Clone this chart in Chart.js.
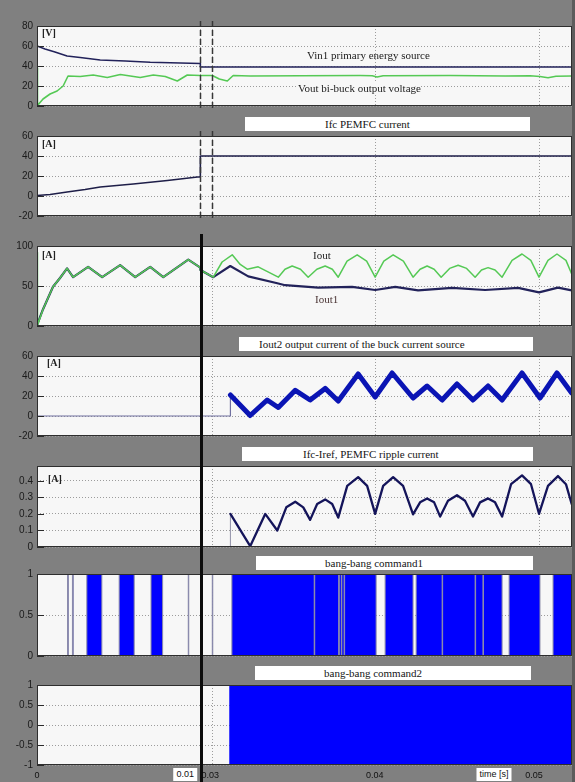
<!DOCTYPE html>
<html><head><meta charset="utf-8">
<script src="https://cdn.jsdelivr.net/npm/chart.js@4.4.1/dist/chart.umd.min.js"></script>
<style>
html,body{margin:0;padding:0;background:#808080;}
#fig{position:relative;width:575px;height:782px;background:#808080;overflow:hidden;}
#fig canvas{position:absolute;left:0;}
.box{position:absolute;background:#fff;height:14px;font:11px 'Liberation Serif','Times New Roman',serif;color:#151515;line-height:14px;white-space:nowrap;z-index:3;}
.note{position:absolute;font:11px 'Liberation Serif','Times New Roman',serif;color:#222;white-space:nowrap;line-height:12px;z-index:3;}
.unit{font-weight:bold;font-size:10px;}
.xl{position:absolute;font:9px 'Liberation Sans',Arial,sans-serif;color:#111;white-space:nowrap;line-height:11px;z-index:4;transform:translateX(-50%);}
#marker{position:absolute;left:200px;top:234px;width:3px;height:548px;background:#0c0c0c;z-index:5;}
#edge{position:absolute;left:572px;top:0;width:3px;height:782px;background:#5c5c5c;z-index:2;}
</style></head>
<body>
<div id="fig"><div id="marker"></div><div id="edge"></div></div>
<script>
// ---------------- data (time in seconds) ----------------
const xGridTicks = [0, 0.01, 0.03, 0.04, 0.05];
const xTickLabels = ['0', '0.01', '0.03', '0.04', '0.05'];

// panel 1 : voltages [V]
const vinTime  = [0, 0.00049, 0.0011, 0.00184, 0.00264, 0.00387, 0.0054, 0.00693, 0.00877, 0.01, 0.02927, 0.035, 0.04, 0.045, 0.052];
const vinVolts = [60, 57, 54, 50, 48.5, 46, 45, 43.7, 43, 42.5, 39, 39, 39, 39, 39];
const voutTime  = [0, 0.00003, 0.00037, 0.0008, 0.00123, 0.0016, 0.0019, 0.00264, 0.00344, 0.0043, 0.0051, 0.00632, 0.00712, 0.00785, 0.00859, 0.0092, 0.01,
                   0.02927, 0.03, 0.03043, 0.03092, 0.03128, 0.03232, 0.03538, 0.03905, 0.03979, 0.04009, 0.04046, 0.04456, 0.04792, 0.04945, 0.05006, 0.05055, 0.05104, 0.052];
const voutVolts = [38, 0.5, 7, 12, 15, 20, 30, 29.5, 31, 28.5, 31.5, 28.5, 31, 29.5, 25, 31, 30.5,
                   30.5, 30.5, 27, 25, 30.5, 30, 30.3, 30.5, 30.3, 29, 30.3, 30.5, 30, 30.3, 29.5, 28.3, 29.8, 30];
const p1Ticks = [0, 20, 40, 60, 80];

// panel 2 : Ifc [A]
const ifcTime = [0, 0.0008, 0.00184, 0.00294, 0.00387, 0.00589, 0.00798, 0.00982, 0.01, 0.02927, 0.04, 0.052];
const ifcAmps = [0.5, 1.5, 4, 6.5, 9, 12, 15.5, 19, 19, 40, 40, 40];
const p2Ticks = [-20, 0, 20, 40, 60];

// panel 3 : Iout, Iout1 [A]
const ioutTime = [0, 0.00003, 0.00037, 0.00098, 0.00141, 0.00184, 0.00221, 0.00313, 0.00399, 0.00509, 0.00601, 0.00693, 0.00773, 0.00926, 0.01,
  0.02927, 0.03006, 0.0306, 0.03122, 0.03171, 0.03214, 0.03281, 0.03404, 0.03445, 0.03489, 0.0354, 0.03587, 0.0364, 0.03691, 0.03735, 0.03771,
  0.03825, 0.03887, 0.03945, 0.03997, 0.0405, 0.04107, 0.0417, 0.04229, 0.04272, 0.04315, 0.04358, 0.04401, 0.04453, 0.04505, 0.04557, 0.04609,
  0.04648, 0.04688, 0.04731, 0.04774, 0.04835, 0.04896, 0.0495, 0.05, 0.05055, 0.0511, 0.05165, 0.052];
const ioutAmps = [92, 1, 21, 49, 60, 72, 61, 74, 61, 76, 61, 74, 61, 83, 73,
  70, 61, 80, 89, 77, 71, 74, 61, 71, 75, 71, 61, 71, 75, 71, 61,
  81, 89, 81, 61, 81, 89, 81, 61, 71, 75, 71, 61, 72, 76, 72, 61,
  70, 73, 70, 61, 82, 90, 82, 61, 82, 90, 82, 65];
const iout1Time = [0, 0.00037, 0.00098, 0.00141, 0.00184, 0.00221, 0.00313, 0.00399, 0.00509, 0.00601, 0.00693, 0.00773, 0.00926, 0.01,
  0.02927, 0.03006, 0.0311, 0.0322, 0.03398, 0.03446, 0.03648, 0.03856, 0.03997, 0.0412, 0.0426, 0.04468, 0.0467, 0.04872, 0.05, 0.05116, 0.052];
const iout1Amps = [1, 21, 49, 60, 72, 61, 74, 61, 76, 61, 74, 61, 83, 73,
  70, 61, 75, 62, 53.5, 51, 48, 49, 45, 49, 44.5, 47.6, 45, 47.6, 42, 48, 44.5];
const p3Ticks = [0, 50, 100];

// panel 4 : Iout2 [A]
const iout2Time = [0, 0.01, 0.02927, 0.0311, 0.03111, 0.03232, 0.03336, 0.03404, 0.03508, 0.03599, 0.03691, 0.03771, 0.03893, 0.03997, 0.04101,
  0.04229, 0.04315, 0.04407, 0.04498, 0.04596, 0.04688, 0.04774, 0.04896, 0.05006, 0.0511, 0.052];
const iout2Amps = [0, 0, 0, 0, 21, 0.5, 16, 8.5, 25.7, 16, 27.6, 15, 42, 19, 43,
  18, 30, 16, 32, 16, 30, 16, 43, 18, 43, 23];
const p4Ticks = [-20, 0, 20, 40, 60];

// panel 5 : Ifc - Iref [A]
const rippleTime = [0, 0.01, 0.02927, 0.0311, 0.03111, 0.03232, 0.03324, 0.03398, 0.03453, 0.03508, 0.03557, 0.03599, 0.03642, 0.03691, 0.03734, 0.03771,
  0.03826, 0.03893, 0.03948, 0.03997, 0.04046, 0.04107, 0.04168, 0.04229, 0.04272, 0.04315, 0.04358, 0.04395, 0.04443, 0.04498, 0.04547, 0.04596,
  0.04639, 0.04688, 0.04731, 0.04774, 0.04829, 0.04896, 0.04951, 0.05, 0.05055, 0.05116, 0.05165, 0.052];
const rippleAmps = [0, 0, 0, 0, 0.2, 0.005, 0.2, 0.1, 0.24, 0.274, 0.24, 0.164, 0.26, 0.288, 0.26, 0.178,
  0.37, 0.423, 0.37, 0.2, 0.37, 0.423, 0.37, 0.197, 0.27, 0.294, 0.27, 0.184, 0.28, 0.313, 0.28, 0.184,
  0.27, 0.294, 0.27, 0.184, 0.38, 0.433, 0.38, 0.201, 0.37, 0.429, 0.38, 0.26];
const p5Ticks = [0, 0.1, 0.2, 0.3, 0.4];

// panel 6 : bang-bang command1 (value switches at each time)
const cmd1Time = [0, 0.00187, 0.00192, 0.00217, 0.00222, 0.00305, 0.00397, 0.00503, 0.00595, 0.00698, 0.00769, 0.00926, 0.00929, 0.01,
  0.02927, 0.03, 0.03003, 0.0312, 0.03624, 0.03627, 0.03774, 0.03777, 0.0379, 0.03793, 0.03807, 0.0381, 0.04003, 0.04058, 0.04229, 0.04248,
  0.04407, 0.0441, 0.04609, 0.04612, 0.04657, 0.0466, 0.04774, 0.04817, 0.05006, 0.05086, 0.052];
const cmd1Value = [0, 1, 0, 1, 0, 1, 0, 1, 0, 1, 0, 1, 0, 0,
  0, 1, 0, 1, 0, 1, 0, 1, 0, 1, 0, 1, 0, 1, 0, 1,
  0, 1, 0, 1, 0, 1, 0, 1, 0, 1, 1];
const p6Ticks = [0, 0.5, 1];

// panel 7 : bang-bang command2
const cmd2Time  = [0, 0.01, 0.02927, 0.03104, 0.052];
const cmd2Value = [-1, -1, -1, 1, 1];
const p7Ticks = [-1, -0.5, 0, 0.5, 1];

// ---------------- broken time axis (0..0.01 | 0.0293..0.052) ----------------
const BREAK_FROM = 0.01, BREAK_TO = 0.02927, T_END = 0.05202;
class BrokenTimeScale extends Chart.LinearScale {
  _toView(v) {
    if (v <= BREAK_FROM) return v;
    if (v >= BREAK_TO) return v - (BREAK_TO - BREAK_FROM);
    return BREAK_FROM;
  }
  getPixelForValue(value) {
    const lo = this._toView(this.min), hi = this._toView(this.max);
    return this.getPixelForDecimal((this._toView(value) - lo) / (hi - lo));
  }
  getValueForPixel(pixel) {
    const lo = this._toView(this.min), hi = this._toView(this.max);
    const u = lo + this.getDecimalForPixel(pixel) * (hi - lo);
    return u <= BREAK_FROM ? u : u + (BREAK_TO - BREAK_FROM);
  }
}
BrokenTimeScale.id = 'brokenTime';
BrokenTimeScale.defaults = Chart.LinearScale.defaults;
Chart.register(BrokenTimeScale);

const pts = (t, v) => t.map((x, i) => ({x: x, y: v[i]}));

const framePlugin = {
  id: 'frame',
  beforeDraw(chart) {
    const {ctx, chartArea: a} = chart;
    ctx.save(); ctx.fillStyle = '#f7f7f7';
    ctx.fillRect(a.left, a.top, a.right - a.left, a.bottom - a.top);
    ctx.restore();
  },
  afterDraw(chart, args, opts) {
    const {ctx, chartArea: a, scales} = chart;
    ctx.save();
    if (opts.breakLines) {
      ctx.strokeStyle = '#383838'; ctx.lineWidth = 1.5; ctx.setLineDash([6, 3]);
      [BREAK_FROM, 0.03].forEach(v => {
        const x = Math.round(scales.x.getPixelForValue(v)) + 0.5;
        ctx.beginPath(); ctx.moveTo(x, a.top - 5); ctx.lineTo(x, a.bottom + 5); ctx.stroke();
      });
      ctx.setLineDash([]);
    }
    ctx.strokeStyle = '#2a2a2a'; ctx.lineWidth = 1;
    scales.y.ticks.forEach(t => {
      const y = Math.round(scales.y.getPixelForValue(t.value)) + 0.5;
      ctx.beginPath(); ctx.moveTo(a.left, y); ctx.lineTo(a.left + 7, y); ctx.stroke();
    });
    ctx.strokeStyle = '#2e2e2e';
    ctx.strokeRect(a.left + 0.5, a.top + 0.5, a.right - a.left - 1, a.bottom - a.top - 1);
    ctx.restore();
  }
};

const NAVY = '#22225a', GREEN = '#55c955';
const thinIfZero = (thick, thin) => ctx => (ctx.p0.parsed.y > 0 ? thick : thin);

// note: in Chart.js the first dataset is painted on top
const panels = [
  {top: 24, bottom: 108, yMin: 0, yMax: 80, yTicks: p1Ticks, breakLines: true, datasets: [
    {data: pts(vinTime, vinVolts), borderColor: NAVY, borderWidth: 1.6},
    {data: pts(voutTime, voutVolts), borderColor: GREEN, borderWidth: 1.6}]},
  {top: 134, bottom: 218, yMin: -20, yMax: 60, yTicks: p2Ticks, breakLines: true, datasets: [
    {data: pts(ifcTime, ifcAmps), borderColor: '#1e1e48', borderWidth: 1.6}]},
  {top: 244, bottom: 328, yMin: 0, yMax: 100, yTicks: p3Ticks, datasets: [
    {data: pts(ioutTime, ioutAmps), borderColor: GREEN, borderWidth: 1.5},
    {data: pts(iout1Time, iout1Amps), borderColor: NAVY, borderWidth: 2.2}]},
  {top: 354, bottom: 438, yMin: -20, yMax: 60, yTicks: p4Ticks, datasets: [
    {data: pts(iout2Time, iout2Amps), borderWidth: 1.2, borderColor: '#7070a0',
     segment: {borderWidth: thinIfZero(5, 1.2), borderColor: thinIfZero('#0a14b4', '#7070a0')}}]},
  {top: 464, bottom: 549, yMin: 0, yMax: 0.49, yTicks: p5Ticks, datasets: [
    {data: pts(rippleTime, rippleAmps), borderWidth: 1, borderColor: '#9090a8',
     segment: {borderWidth: thinIfZero(2.3, 1), borderColor: thinIfZero('#14145a', '#9090a8')}}]},
  {top: 572, bottom: 658, yMin: 0, yMax: 1, yTicks: p6Ticks, datasets: [
    {data: pts(cmd1Time, cmd1Value), stepped: 'before', fill: 'origin', backgroundColor: '#0000ff', borderColor: '#8c8ca8', borderWidth: 1}]},
  {top: 683, bottom: 767, yMin: -1, yMax: 1, yTicks: p7Ticks, datasets: [
    {data: pts(cmd2Time, cmd2Value), stepped: 'before', fill: 'start', backgroundColor: '#0000ff', borderColor: '#0000ff', borderWidth: 0}]}
];

const fig = document.getElementById('fig');
const charts = panels.map(p => {
  const c = document.createElement('canvas');
  c.width = 575; c.height = p.bottom - p.top + 16;
  c.style.top = (p.top - 8) + 'px';
  fig.appendChild(c);
  return new Chart(c, {
    type: 'line',
    data: {datasets: p.datasets},
    options: {
      responsive: false, animation: false, events: [],
      layout: {padding: {top: 8, bottom: 8, left: 0, right: 3}},
      plugins: {legend: {display: false}, tooltip: {enabled: false}, frame: {breakLines: !!p.breakLines}},
      elements: {point: {radius: 0}, line: {tension: 0, borderJoinStyle: 'round', borderCapStyle: 'round'}},
      scales: {
        x: {type: 'brokenTime', position: 'bottom', min: 0, max: T_END,
            afterBuildTicks: s => { s.ticks = xGridTicks.map(v => ({value: v})); },
            afterFit: s => { s.height = 0; },
            ticks: {display: false},
            grid: {color: '#9c9c9c', drawTicks: false, lineWidth: 1},
            border: {display: false, dash: [1, 2]}},
        y: {type: 'linear', position: 'left', min: p.yMin, max: p.yMax,
            afterBuildTicks: s => { s.ticks = p.yTicks.map(v => ({value: v})); },
            afterFit: s => { s.width = 37; },
            ticks: {padding: 4, color: '#1a1a1a', callback: v => String(v),
                    font: {family: "'Liberation Sans Narrow','Liberation Sans',Arial,sans-serif", size: 10}},
            grid: {color: '#9c9c9c', drawTicks: false, lineWidth: 1},
            border: {display: false, dash: [1, 2]}}
      }
    },
    plugins: [framePlugin]
  });
});

// ---------------- texts ----------------
function addDiv(cls, html, style) {
  const d = document.createElement('div');
  d.className = cls; d.innerHTML = html;
  Object.assign(d.style, style);
  fig.appendChild(d);
  return d;
}
const boxes = [
  ['Ifc PEMFC current', 245, 117, 285, 80],
  ['Iout2 output current of the buck current source', 239, 337, 294, 20],
  ['Ifc-Iref, PEMFC ripple current', 242, 447, 291, 61],
  ['bang-bang command1', 256, 556, 277, 69],
  ['bang-bang command2', 255, 666, 276, 69]
];
boxes.forEach(b => addDiv('box', b[0], {left: b[1] + 'px', top: b[2] + 'px', width: (b[3] - b[4]) + 'px', paddingLeft: b[4] + 'px'}));

const notes = [
  ['[V]', 42, 27, true], ['[A]', 42, 138, true], ['[A]', 42, 249, true], ['[A]', 47, 357, true], ['[A]', 48, 473, true],
  ['Vin1 primary energy source', 307, 49], ['Vout bi-buck output voltage', 298, 82, false, '#f7f7f7'],
  ['Iout', 313, 249], ['Iout1', 315, 293, false, null, '#4a3434']
];
notes.forEach(n => {
  const d = addDiv('note' + (n[3] ? ' unit' : ''), n[0], {left: n[1] + 'px', top: n[2] + 'px'});
  if (n[4]) d.style.background = n[4];
  if (n[5]) d.style.color = n[5];
});

// x tick labels of the bottom panel, placed with its own time scale
const xs = charts[charts.length - 1].scales.x;
const labelNudge = [0, -15, -2, -1, -5];
xGridTicks.forEach((v, i) => {
  const d = addDiv('xl', xTickLabels[i], {left: (xs.getPixelForValue(v) + labelNudge[i]) + 'px', top: '770px'});
  if (i === 1) { d.style.background = '#fff'; d.style.padding = '1px 3px'; d.style.top = '768px'; }
});
addDiv('xl', 'time [s]', {left: '494px', top: '768px', background: '#fff', padding: '1px 3px', transform: 'translateX(-50%)'});
</script>
</body></html>
